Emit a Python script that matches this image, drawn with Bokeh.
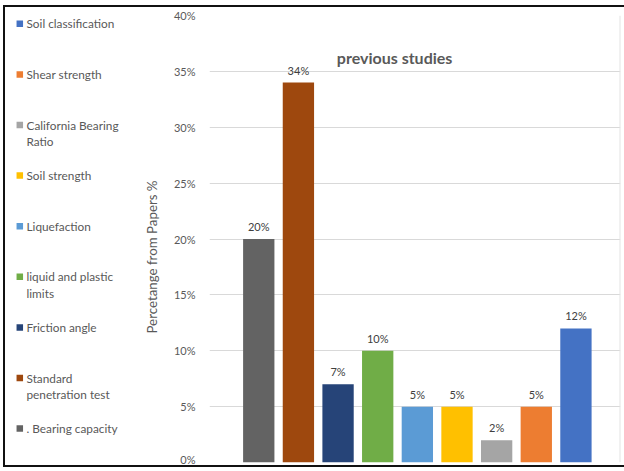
import math
from bokeh.plotting import figure
from bokeh.layouts import row
from bokeh.models import Range1d, FixedTicker, NumeralTickFormatter, Label, ColumnDataSource, Span
from bokeh.embed import file_html
from bokeh.resources import INLINE
from bokeh.core.properties import value

# ---- data (bars left to right) ----
bar_names = [". Bearing capacity", "Standard penetration test", "Friction angle",
             "liquid and plastic limits", "Liquefaction", "Soil strength",
             "California Bearing Ratio", "Shear strength", "Soil classification"]
bar_values = [0.20, 0.34, 0.07, 0.10, 0.05, 0.05, 0.02, 0.05, 0.12]
bar_labels = ["20%", "34%", "7%", "10%", "5%", "5%", "2%", "5%", "12%"]
bar_colors = ["#636363", "#9E480E", "#264478", "#70AD47", "#5B9BD5",
              "#FFC000", "#A5A5A5", "#ED7D31", "#4472C4"]

# legend (top to bottom)
legend_texts = ["Soil classification", "Shear strength", "California Bearing\nRatio",
                "Soil strength", "Liquefaction", "liquid and plastic\nlimits",
                "Friction angle", "Standard\npenetration test", ". Bearing capacity"]
legend_colors = ["#4472C4", "#ED7D31", "#A5A5A5", "#FFC000", "#5B9BD5",
                 "#70AD47", "#264478", "#9E480E", "#636363"]

y_ticks = [0, 0.05, 0.10, 0.15, 0.20, 0.25, 0.30, 0.35, 0.40]
title_text = "previous studies"
y_title = "Percetange from Papers %"

FONT = "Lato"
TXT = "#595959"

# page geometry: border box starts at (3,5), content at (5,7)
OX, OY = 5, 7
H = 458
SPLIT = 170            # page x where the chart panel begins
LW = SPLIT - OX        # legend panel width
RW = 624 - SPLIT       # chart panel width
LB = 207 - SPLIT
RB = 4
TB = 15 - OY
BB = H - (462 - OY)
FW = RW - LB - RB

step_px = 39.84
first_px = 256.5
x_start = 1 - (first_px - 207) / step_px
x_end = x_start + FW / step_px

# ---------------- legend panel (canvas pixel coordinates) ----------------
leg = figure(width=LW, height=H, output_backend="svg", toolbar_location=None,
             x_range=Range1d(0, LW), y_range=Range1d(H - BB, TB),
             min_border_left=0, min_border_right=0,
             min_border_top=TB, min_border_bottom=BB)
leg.axis.visible = False
leg.grid.visible = False
leg.outline_line_color = None
leg.border_fill_color = "white"

row_gap = 50.6
line_h = 16.5
sq_x, sq_y, sq_c = [], [], []
tx, ty, tt = [], [], []
for i, (t, c) in enumerate(zip(legend_texts, legend_colors)):
    cy = 23.3 + i * row_gap - OY
    sq_x.append(19.3 - OX)
    sq_y.append(cy)
    sq_c.append(c)
    for j, line in enumerate(t.split("\n")):
        tx.append(26 - OX)
        ty.append(cy + j * line_h)
        tt.append(line)
leg.rect(x=sq_x, y=sq_y, width=6.5, height=6.5, fill_color=sq_c, line_color=None)
leg.text(x=tx, y=ty, text=tt, text_align="left", text_baseline="middle",
         text_font=value(FONT), text_font_size="11.8px", text_color=TXT)

# y-axis title (rotated)
leg.text(x=[151 - OX], y=[256.5 - OY], text=[y_title], angle=math.pi / 2,
         text_align="center", text_baseline="middle",
         text_font=value(FONT), text_font_size="13.3px", text_color=TXT)

# ---------------- chart panel ----------------
p = figure(width=RW, height=H, output_backend="svg", toolbar_location=None,
           x_range=Range1d(x_start, x_end), y_range=Range1d(0, 0.40),
           min_border_left=LB, min_border_right=RB, min_border_top=TB, min_border_bottom=BB)
p.outline_line_color = None
p.background_fill_color = "white"
p.border_fill_color = "white"

xs = list(range(1, len(bar_values) + 1))
src = ColumnDataSource(dict(x=xs, top=bar_values, color=bar_colors, lab=bar_labels))
p.vbar(x="x", top="top", bottom=0, width=0.79, fill_color="color", line_color=None, source=src)
p.text(x="x", y="top", text="lab", source=src, text_align="center", text_baseline="bottom",
       y_offset=-6, text_font=value(FONT), text_font_size="11px", text_color="#404040")

p.xaxis.visible = False
p.xgrid.visible = False
p.ygrid.ticker = FixedTicker(ticks=y_ticks)
p.ygrid.grid_line_color = "#D9D9D9"
p.ygrid.grid_line_width = 1

p.add_layout(Span(location=x_end, dimension="height", line_color="#E3E3E3", line_width=2))

ya = p.yaxis[0]
ya.ticker = FixedTicker(ticks=y_ticks)
ya.formatter = NumeralTickFormatter(format="0%")
ya.axis_line_color = None
ya.major_tick_line_color = None
ya.minor_tick_line_color = None
ya.major_tick_out = 0
ya.major_label_standoff = 14
ya.major_label_text_font = FONT
ya.major_label_text_font_size = "11px"
ya.major_label_text_color = TXT

tx_data = x_start + (393 - 207) * (x_end - x_start) / FW
ty_data = (462 - 57) / 447 * 0.40
p.add_layout(Label(x=tx_data, y=ty_data, text=title_text, text_align="center",
                   text_baseline="middle", text_font=FONT, text_font_size="16px",
                   text_font_style="bold", text_color=TXT))

layout = row(leg, p, styles={"margin-left": "3px", "margin-top": "5px",
                             "border-left": "2px solid #111111",
                             "border-top": "2px solid #111111",
                             "border-bottom": "2px solid #111111"})

open("out.html", "w").write(file_html(layout, INLINE))
